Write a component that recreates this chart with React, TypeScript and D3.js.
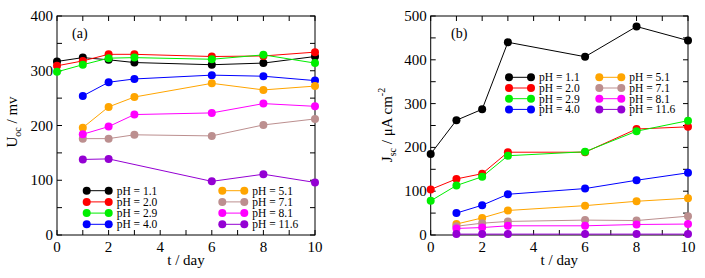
import React from "react";
import * as d3 from "d3";

const labels = ["pH = 1.1", "pH = 2.0", "pH = 2.9", "pH = 4.0", "pH = 5.1", "pH = 7.1", "pH = 8.1", "pH = 11.6"];
const colors = ["#000000", "#ff0000", "#00ee00", "#0000ff", "#ffa500", "#bc8f8f", "#ff00ff", "#9400d3"];

const tA0 = [0, 1, 2, 3, 6, 8, 10];
const tA1 = [1, 2, 3, 6, 8, 10];
const tA2 = [1, 2, 6, 8, 10];

const uocDays = [tA0, tA0, tA0, tA1, tA1, tA1, tA1, tA2];
const uoc11 = [317, 324, 320, 315, 311, 314, 326];
const uoc20 = [309, 318, 330, 330, 326, 327, 334];
const uoc29 = [298, 311, 323, 324, 321, 329, 314];
const uoc40 = [254, 279, 285, 292, 290, 282];
const uoc51 = [196, 234, 252, 277, 265, 272];
const uoc71 = [176, 176, 183, 181, 201, 212];
const uoc81 = [184, 198, 220, 223, 240, 235];
const uoc116 = [138, 139, 98, 111, 96];
const uocSeries = [uoc11, uoc20, uoc29, uoc40, uoc51, uoc71, uoc81, uoc116];

const jscDays = [tA0, tA0, tA0, tA1, tA1, tA1, tA1, tA1];
const jsc11 = [185, 262, 287, 440, 407, 476, 444];
const jsc20 = [104, 128, 140, 189, 189, 242, 247];
const jsc29 = [78, 113, 133, 181, 190, 237, 261];
const jsc40 = [50, 68, 93, 106, 125, 142];
const jsc51 = [25, 39, 56, 67, 77, 84];
const jsc71 = [20, 27, 31, 34, 33, 43];
const jsc81 = [15, 17, 21, 21, 24, 25];
const jsc116 = [2, 2, 2, 2, 2, 2];
const jscSeries = [jsc11, jsc20, jsc29, jsc40, jsc51, jsc71, jsc81, jsc116];

const xTicks = [0, 2, 4, 6, 8, 10];
const FONT = "Liberation Serif, Times New Roman, Times, serif";

type PanelProps = {
  left: number; right: number; top: number; bottom: number;
  yMax: number; yTicks: number[];
  days: number[][]; series: number[][];
  tag: string; tagX: number;
  legendX: number; legendY: number; legendColGap: number; legendRowGap: number;
  yTitle: React.ReactNode; yTitleX: number; yTitleY: number;
};

function Panel(p: PanelProps) {
  const x = d3.scaleLinear().domain([0, 10]).range([p.left, p.right]);
  const y = d3.scaleLinear().domain([0, p.yMax]).range([p.bottom, p.top]);
  const line = d3.line<[number, number]>().x(d => x(d[0])).y(d => y(d[1]));
  const minorX = d3.range(0, 11, 1);
  const minorY = d3.range(0, p.yMax + 1, 50);
  const tl = 5;
  return (
    <g>
      <rect x={p.left} y={p.top} width={p.right - p.left} height={p.bottom - p.top} fill="none" stroke="#000" strokeWidth={1} />
      {minorX.map(v => (
        <g key={"x" + v}>
          <line x1={x(v)} x2={x(v)} y1={p.bottom} y2={p.bottom - tl} stroke="#000" />
          <line x1={x(v)} x2={x(v)} y1={p.top} y2={p.top + tl} stroke="#000" />
        </g>
      ))}
      {minorY.map(v => (
        <g key={"y" + v}>
          <line x1={p.left} x2={p.left + tl} y1={y(v)} y2={y(v)} stroke="#000" />
          <line x1={p.right} x2={p.right - tl} y1={y(v)} y2={y(v)} stroke="#000" />
        </g>
      ))}
      {xTicks.map(v => (
        <text key={"xl" + v} x={x(v)} y={p.bottom + 17} textAnchor="middle" fontSize={15} fontFamily={FONT}>{v}</text>
      ))}
      {p.yTicks.map(v => (
        <text key={"yl" + v} x={p.left - 4} y={y(v) + 5} textAnchor="end" fontSize={15} fontFamily={FONT}>{v}</text>
      ))}
      <text x={(p.left + p.right) / 2} y={p.bottom + 30} textAnchor="middle" fontSize={15} fontFamily={FONT}>t / day</text>
      <text transform={`translate(${p.yTitleX},${p.yTitleY}) rotate(-90)`} textAnchor="middle" fontSize={15} fontFamily={FONT}>{p.yTitle}</text>
      <text x={p.tagX} y={p.top + 22} fontSize={14} fontFamily={FONT}>{p.tag}</text>
      {p.series.map((vals, i) => {
        const pts: [number, number][] = vals.map((v, j) => [p.days[i][j], v]);
        return (
          <g key={"s" + i}>
            <path d={line(pts) || ""} fill="none" stroke={colors[i]} strokeWidth={1} />
            {pts.map((d, j) => (
              <circle key={j} cx={x(d[0])} cy={y(d[1])} r={4} fill={colors[i]} />
            ))}
          </g>
        );
      })}
      {labels.map((lab, i) => {
        const col = Math.floor(i / 4);
        const row = i % 4;
        const lx = p.legendX + col * p.legendColGap;
        const ly = p.legendY + row * p.legendRowGap;
        return (
          <g key={"l" + i}>
            <line x1={lx} x2={lx + 22} y1={ly} y2={ly} stroke={colors[i]} />
            <circle cx={lx} cy={ly} r={4} fill={colors[i]} />
            <circle cx={lx + 22} cy={ly} r={4} fill={colors[i]} />
            <text x={lx + 30} y={ly + 4} fontSize={11.5} fontFamily={FONT}>{lab}</text>
          </g>
        );
      })}
    </g>
  );
}

export default function App() {
  return (
    <svg width={705} height={278} style={{ position: "absolute", left: 0, top: 0, background: "#fff" }}>
      <Panel left={57} right={315} top={16} bottom={235} yMax={400} yTicks={[0, 100, 200, 300, 400]}
        days={uocDays} series={uocSeries} tag="(a)" tagX={72}
        legendX={86.7} legendY={190.7} legendColGap={135.6} legendRowGap={11.2}
        yTitle={<>U<tspan fontSize={10} dy={4}>oc</tspan><tspan dy={-4}> / mv</tspan></>}
        yTitleX={17} yTitleY={122} />
      <Panel left={430.7} right={688} top={16} bottom={235} yMax={500} yTicks={[0, 100, 200, 300, 400, 500]}
        days={jscDays} series={jscSeries} tag="(b)" tagX={451}
        legendX={509} legendY={77.3} legendColGap={90.3} legendRowGap={10.7}
        yTitle={<>J<tspan fontSize={10} dy={4}>sc</tspan><tspan dy={-4}> / μA cm</tspan><tspan fontSize={10} dy={-7}>-2</tspan></>}
        yTitleX={392} yTitleY={125} />
    </svg>
  );
}
